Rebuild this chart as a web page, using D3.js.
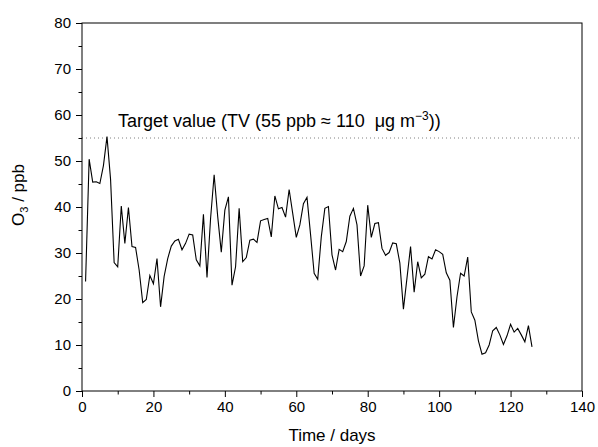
<!DOCTYPE html>
<html>
<head>
<meta charset="utf-8">
<script src="https://cdn.jsdelivr.net/npm/d3@7"></script>
<style>
  html, body { margin: 0; padding: 0; background: #fff; }
  svg { display: block; font-family: "Liberation Sans", Arial, sans-serif; }
</style>
</head>
<body>
<svg id="chart" width="598" height="447"></svg>
<script>
// ---- data ----
const days = d3.range(1, 127);
const ozone = [
  23.8, 50.4, 45.4, 45.5, 45.1, 49.0, 55.3, 46.0, 27.9, 27.0,
  40.2, 32.1, 39.9, 31.4, 31.2, 26.3, 19.2, 19.9, 25.1, 23.3,
  28.8, 18.3, 24.9, 28.8, 31.5, 32.6, 33.0, 30.7, 32.1, 34.1,
  33.9, 28.5, 27.2, 38.4, 24.7, 37.5, 47.0, 37.9, 30.2, 39.3,
  42.2, 23.0, 27.0, 39.7, 28.1, 29.0, 32.8, 33.0, 32.3, 37.0,
  37.3, 37.5, 33.5, 42.4, 39.6, 39.9, 37.8, 43.8, 38.6, 33.4,
  36.1, 40.7, 42.1, 34.0, 25.6, 24.3, 33.5, 39.7, 40.1, 29.6,
  26.3, 30.8, 30.3, 32.5, 38.0, 39.7, 36.1, 25.0, 27.2, 40.4,
  33.4, 36.4, 36.6, 31.0, 29.5, 30.1, 32.2, 32.0, 27.8, 17.8,
  24.6, 31.4, 21.5, 28.1, 24.6, 25.4, 29.2, 28.7, 30.7, 30.3,
  29.7, 25.7, 24.1, 13.8, 20.5, 25.6, 25.0, 29.1, 17.2, 15.4,
  10.9, 8.0, 8.3, 10.0, 13.1, 13.8, 12.2, 10.1, 12.0, 14.5,
  12.8, 13.6, 12.2, 10.7, 14.2, 9.6
];
const targetValue = 55;
const xTicks = [0, 20, 40, 60, 80, 100, 120, 140];
const xMinorTicks = [10, 30, 50, 70, 90, 110, 130];
const yTicks = [0, 10, 20, 30, 40, 50, 60, 70, 80];
const yMinorTicks = [5, 15, 25, 35, 45, 55, 65, 75];

// ---- layout ----
const svg = d3.select("#chart");
const m = { left: 82, top: 23, right: 16, bottom: 56 };
const W = 598, H = 447;
const iw = W - m.left - m.right, ih = H - m.top - m.bottom;

const x = d3.scaleLinear().domain([0, 140]).range([0, iw]);
const y = d3.scaleLinear().domain([0, 80]).range([ih, 0]);

const g = svg.append("g").attr("transform", `translate(${m.left},${m.top})`);

// target line
g.append("line")
  .attr("x1", 0).attr("x2", iw)
  .attr("y1", y(targetValue)).attr("y2", y(targetValue))
  .attr("stroke", "#808080").attr("stroke-width", 1)
  .attr("stroke-dasharray", "1,3");

// data line
const line = d3.line().x((d, i) => x(days[i])).y(d => y(d));
g.append("path")
  .datum(ozone)
  .attr("d", line)
  .attr("fill", "none")
  .attr("stroke", "#000")
  .attr("stroke-width", 1.1)
  .attr("stroke-linejoin", "miter");

// frame
g.append("rect").attr("x", 0).attr("y", 0).attr("width", iw).attr("height", ih)
  .attr("fill", "none").attr("stroke", "#000").attr("stroke-width", 1);

// axes
const fs = 15;
const xAxis = d3.axisBottom(x).tickValues(xTicks).tickSize(6).tickPadding(4).tickFormat(d3.format("d"));
const xAxisMinor = d3.axisBottom(x).tickValues(xMinorTicks).tickSize(3.5).tickFormat("");
const yAxis = d3.axisLeft(y).tickValues(yTicks).tickSize(6).tickPadding(5).tickFormat(d3.format("d"));
const yAxisMinor = d3.axisLeft(y).tickValues(yMinorTicks).tickSize(3.5).tickFormat("");

function styleAxis(sel) {
  sel.select(".domain").remove();
  sel.selectAll("line").attr("stroke", "#000");
  sel.selectAll("text").attr("fill", "#000").style("font-size", fs + "px")
     .style("font-family", '"Liberation Sans", Arial, sans-serif');
}
g.append("g").attr("transform", `translate(0,${ih})`).call(xAxis).call(styleAxis);
g.append("g").attr("transform", `translate(0,${ih})`).call(xAxisMinor).call(styleAxis);
g.append("g").call(yAxis).call(styleAxis);
g.append("g").call(yAxisMinor).call(styleAxis);

// axis titles
svg.append("text")
  .attr("x", m.left + iw / 2).attr("y", 441)
  .attr("text-anchor", "middle")
  .style("font-size", "17px")
  .text("Time / days");

const yt = svg.append("text")
  .attr("transform", `translate(24,${m.top + ih / 2 - 12}) rotate(-90)`)
  .attr("text-anchor", "middle")
  .style("font-size", "17px");
yt.append("tspan").text("O");
yt.append("tspan").attr("dy", 4).style("font-size", "11px").text("3");
yt.append("tspan").attr("dy", -4).text(" / ppb");

// annotation
const ann = svg.append("text")
  .attr("x", 118).attr("y", 127)
  .style("font-size", "18px")
  .style("white-space", "pre");
ann.append("tspan").text("Target value (TV (55 ppb \u2248 110  \u03bcg m");
ann.append("tspan").attr("dy", -7).style("font-size", "12px").text("\u22123");
ann.append("tspan").attr("dy", 7).text("))");
</script>
</body>
</html>
